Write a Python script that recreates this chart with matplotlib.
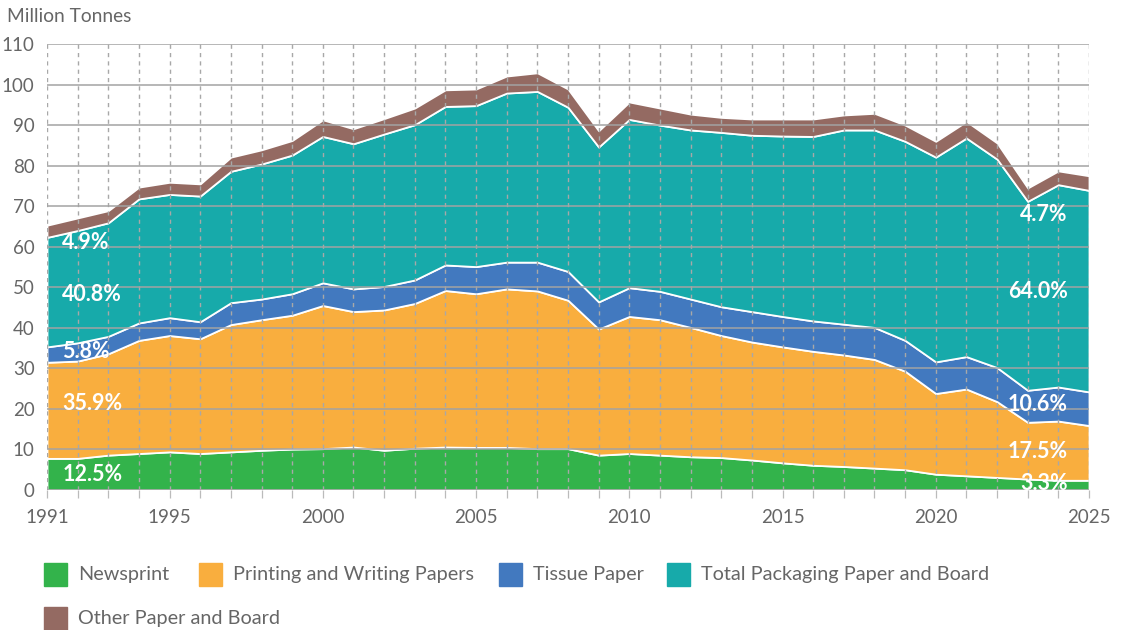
import matplotlib
matplotlib.use("Agg")
import matplotlib.pyplot as plt
from matplotlib.patches import Rectangle
import numpy as np

years = list(range(1991, 2026))

# Cumulative tops (million tonnes)
newsprint_top = [7.8, 7.8, 8.6, 9.0, 9.4, 9.0, 9.4, 9.8, 10.1, 10.2, 10.6, 9.8,
                 10.3, 10.6, 10.5, 10.5, 10.2, 10.2, 8.6, 9.0, 8.6, 8.2, 8.0, 7.4,
                 6.7, 6.1, 5.8, 5.4, 5.0, 3.9, 3.5, 3.1, 2.7, 2.4, 2.4]
printing_top = [31.5, 31.8, 33.6, 36.9, 38.1, 37.3, 40.8, 42.0, 43.1, 45.5, 44.0, 44.4,
                46.0, 49.2, 48.4, 49.6, 49.1, 46.8, 39.7, 42.8, 42.0, 40.1, 38.1, 36.5,
                35.3, 34.2, 33.3, 32.2, 29.3, 23.8, 24.9, 21.8, 16.7, 17.0, 15.9]
tissue_top = [35.3, 36.3, 37.9, 41.2, 42.5, 41.5, 46.2, 47.1, 48.4, 51.1, 49.6, 50.2,
              51.8, 55.5, 55.1, 56.2, 56.2, 53.9, 46.4, 49.9, 49.0, 47.1, 45.2, 44.0,
              42.8, 41.7, 40.9, 40.1, 36.9, 31.6, 32.9, 30.2, 24.6, 25.4, 24.2]
packaging_top = [62.3, 64.0, 65.9, 71.8, 72.9, 72.5, 78.6, 80.4, 82.6, 87.2, 85.4, 87.8,
                 90.1, 94.6, 94.8, 97.9, 98.3, 94.4, 84.6, 91.4, 90.0, 88.8, 88.2, 87.5,
                 87.3, 87.2, 88.8, 88.8, 86.0, 82.1, 86.8, 81.6, 71.2, 75.3, 73.9]
total_top = [65.3, 67.1, 68.9, 74.7, 75.9, 75.5, 82.1, 83.9, 86.2, 91.3, 89.1, 91.6,
             94.2, 98.7, 98.9, 102.1, 102.9, 98.9, 88.6, 95.7, 94.2, 92.7, 91.9, 91.5,
             91.5, 91.5, 92.5, 92.9, 90.0, 86.0, 90.9, 85.6, 74.5, 78.7, 77.5]

series_names = ["Newsprint", "Printing and Writing Papers", "Tissue Paper",
                "Total Packaging Paper and Board", "Other Paper and Board"]
colors = ["#33b34b", "#f9ae3e", "#4279bf", "#17aaaa", "#946a62"]

tops = np.array([newsprint_top, printing_top, tissue_top, packaging_top, total_top])
layers = np.diff(np.vstack([np.zeros(len(years)), tops]), axis=0)

left_labels = ["12.5%", "35.9%", "5.8%", "40.8%", "4.9%"]
left_label_y = [3.9, 21.3, 34.2, 48.2, 61.0]
right_labels = ["3.3%", "17.5%", "10.6%", "64.0%", "4.7%"]
right_label_y = [1.6, 9.5, 21.1, 49.0, 67.9]

plt.rcParams['font.family'] = ['Lato', 'DejaVu Sans']
fig = plt.figure(figsize=(11.24, 6.3), dpi=100)
ax = fig.add_axes([47/1124, 1 - 490/630, (1089 - 47)/1124, (490 - 44)/630])

ax.stackplot(years, layers, colors=colors, edgecolor="white", linewidth=1.3, zorder=1)

ax.set_xlim(1991, 2025)
ax.set_ylim(0, 110)
ax.set_yticks(range(0, 111, 10))
ax.set_xticks([1991, 1995, 2000, 2005, 2010, 2015, 2020, 2025])
ax.set_xticks(years, minor=True)

for y in range(0, 111, 10):
    ax.axhline(y, color="#a3a3a3", lw=1.1, zorder=2.5)
for x in years:
    ax.axvline(x, color="#a8a8a8", lw=1.0, ls=(0, (3, 3)), zorder=2.4)

for s in ax.spines.values():
    s.set_visible(False)

ax.tick_params(axis="y", length=0, pad=9, labelsize=13.5, labelcolor="#666666")
ax.tick_params(axis="x", which="both", length=6, color="#bbbbbb", width=0.9,
               pad=8, labelsize=13.5, labelcolor="#666666")

for lab, yv in zip(left_labels, left_label_y):
    ax.text(1991.5, yv, lab, color="white", fontsize=15.5, fontweight="bold",
            ha="left", va="center", zorder=4)
for lab, yv in zip(right_labels, right_label_y):
    ax.text(2024.3, yv, lab, color="white", fontsize=15.5, fontweight="bold",
            ha="right", va="center", zorder=4)

fig.text(7/1124, 1 - 16/630, "Million Tonnes", fontsize=13.8, color="#666666",
         ha="left", va="center")

# legend
legend_pos = [(44, 563), (199, 563), (499, 563), (667, 563), (44, 607)]
for (px, py), name, c in zip(legend_pos, series_names, colors):
    fig.patches.append(Rectangle((px/1124, 1 - (py + 23)/630), 23/1124, 23/630,
                                 transform=fig.transFigure, color=c, figure=fig))
    fig.text((px + 34)/1124, 1 - (py + 11.5)/630, name, fontsize=14.3,
             color="#666666", ha="left", va="center")

fig.savefig("out.png", dpi=100)
